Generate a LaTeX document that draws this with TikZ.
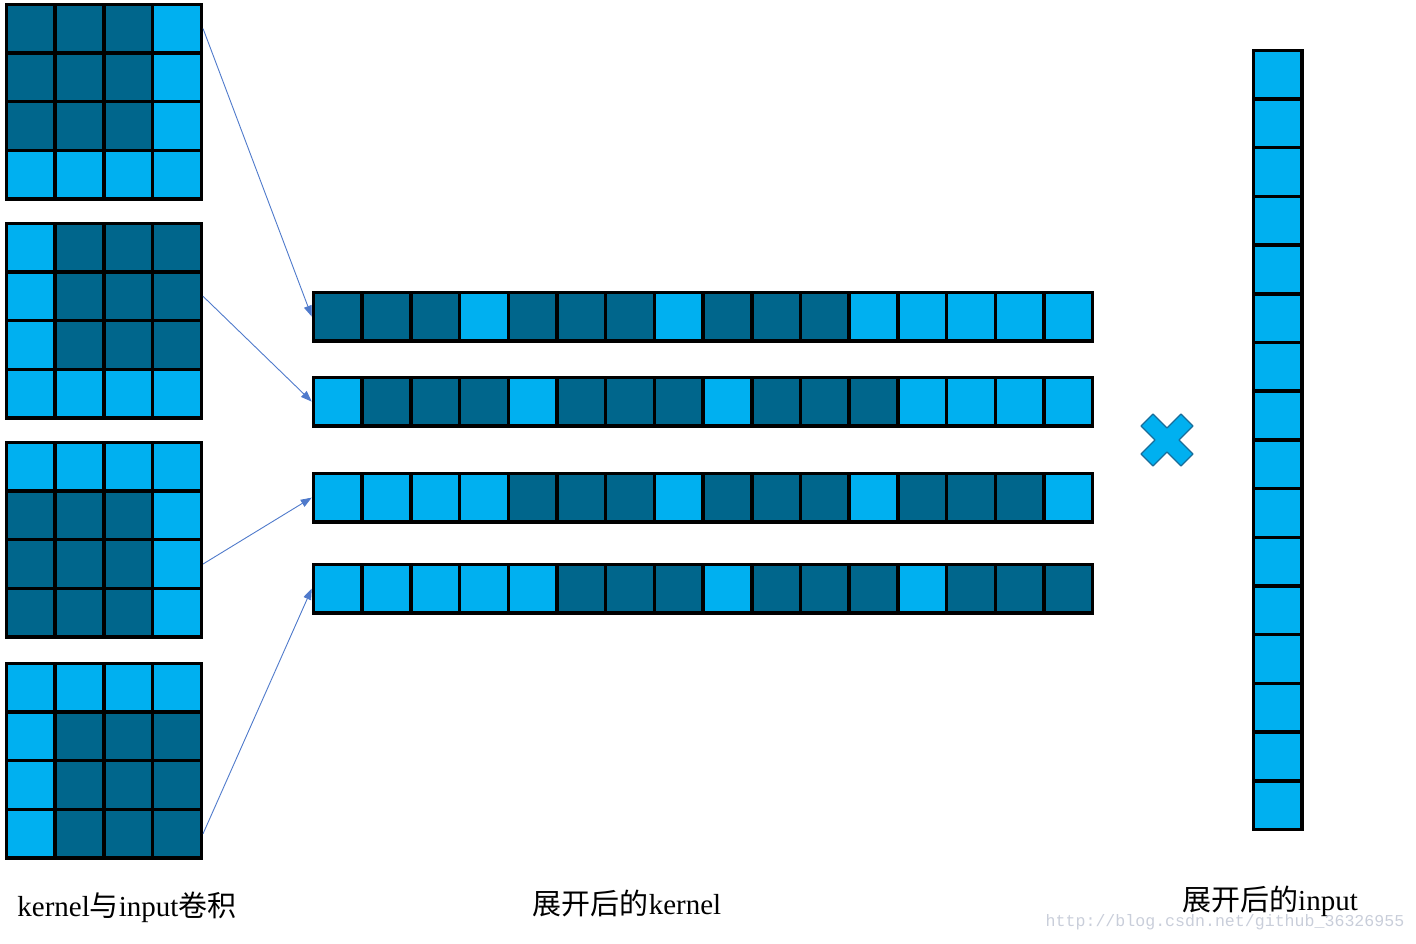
\documentclass[tikz,border=0pt]{standalone}
\usepackage{fontspec}
\setmainfont{Liberation Serif}
\newfontfamily\cjkfont{Noto Sans CJK SC}
\newfontfamily\wmfont{Liberation Mono}
\newcommand\zh[1]{{\cjkfont #1}}
\usetikzlibrary{arrows.meta}
\definecolor{lb}{HTML}{00B0F0}
\definecolor{db}{HTML}{00668C}
\definecolor{arr}{HTML}{4F7ACB}
\definecolor{crossc}{HTML}{1A6C98}
\definecolor{wmc}{HTML}{C9CEDA}
\begin{document}
\begin{tikzpicture}[x=1pt,y=-1pt,
  cell/.style={draw=black, line width=3.5pt, minimum size=48.7pt, inner sep=0pt, anchor=north west},
  kL/.style={cell, fill=lb},
  kD/.style={cell, fill=db},
  conn/.style={draw=arr, line width=0.9pt, -{Triangle[length=11pt,width=8pt]}},
  label/.style={font=\fontsize{29}{34}\selectfont, inner sep=0pt}]
\useasboundingbox (0,0) rectangle (1416,943);
% left 4x4 grids
\foreach \g/\T/\pat in {
  1/2.5/{kD,kD,kD,kL, kD,kD,kD,kL, kD,kD,kD,kL, kL,kL,kL,kL},
  2/221.5/{kL,kD,kD,kD, kL,kD,kD,kD, kL,kD,kD,kD, kL,kL,kL,kL},
  3/440.5/{kL,kL,kL,kL, kD,kD,kD,kL, kD,kD,kD,kL, kD,kD,kD,kL},
  4/661.5/{kL,kL,kL,kL, kL,kD,kD,kD, kL,kD,kD,kD, kL,kD,kD,kD}} {
  \foreach \s [count=\i from 0] in \pat {
    \pgfmathtruncatemacro\r{int(\i/4)}
    \pgfmathtruncatemacro\c{mod(\i,4)}
    \node[\s] (g\g-\r-\c) at ({4.75+\c*48.7},{\T+\r*48.7}) {};
  }
}
% unrolled kernel rows
\foreach \k/\T/\pat in {
  1/290.5/{kD,kD,kD,kL,kD,kD,kD,kL,kD,kD,kD,kL,kL,kL,kL,kL},
  2/375.5/{kL,kD,kD,kD,kL,kD,kD,kD,kL,kD,kD,kD,kL,kL,kL,kL},
  3/471.5/{kL,kL,kL,kL,kD,kD,kD,kL,kD,kD,kD,kL,kD,kD,kD,kL},
  4/562.5/{kL,kL,kL,kL,kL,kD,kD,kD,kL,kD,kD,kD,kL,kD,kD,kD}} {
  \foreach \s [count=\i from 0] in \pat {
    \node[\s] (r\k-\i) at ({311.75+\i*48.7},\T) {};
  }
}
% unrolled input column
\foreach \i in {0,...,15} {
  \node[kL] (in-\i) at (1251.5,{48.5+\i*48.7}) {};
}
% connectors
\draw[conn] (g1-0-3.east) -- (r1-0.west);
\draw[conn] (g2-1-3.east) -- (r2-0.west);
\draw[conn] (g3-2-3.east) -- (r3-0.west);
\draw[conn] (g4-3-3.east) -- (r4-0.west);
% multiplication sign
\draw[fill=lb, draw=crossc, line width=1.2pt, line join=round, shift={(1167,440)}]
  (0,-12) -- (14,-26) -- (26,-14) -- (12,0) -- (26,14) -- (14,26) -- (0,12)
  -- (-14,26) -- (-26,14) -- (-12,0) -- (-26,-14) -- (-14,-26) -- cycle;
% labels
\node[label] (t1) at (127,907) {kernel\zh{与}input\zh{卷积}};
\node[label] (t2) at (627,903) {\zh{展开后的}kernel};
\node[label] (t3) at (1270,901) {\zh{展开后的}input};
\node[text=wmc, inner sep=0pt] (wm) at (1225,922) {\wmfont\fontsize{16.6}{18}\selectfont http://blog.csdn.net/github\_36326955};
\end{tikzpicture}
\end{document}
